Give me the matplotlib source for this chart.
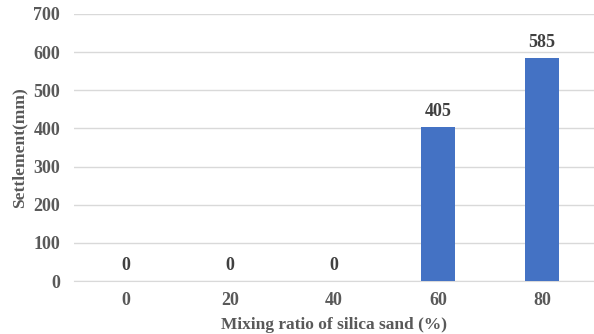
import matplotlib.pyplot as plt

ratios = ["0", "20", "40", "60", "80"]
settlement = [0, 0, 0, 405, 585]
yticks = [0, 100, 200, 300, 400, 500, 600, 700]

plt.rcParams["font.family"] = ["Liberation Serif", "DejaVu Serif"]
plt.rcParams["font.weight"] = "bold"

grey = "#595959"
fig = plt.figure(figsize=(5.94, 3.34), dpi=100)
ax = fig.add_axes([74 / 594, 1 - 281 / 334, 520 / 594, 267 / 334])

x = list(range(len(ratios)))
bars = ax.bar(x, settlement, width=0.32, color="#4472C4", zorder=3)
for rect, v in zip(bars, settlement):
    ax.annotate(str(v), (rect.get_x() + rect.get_width() / 2, v),
                xytext=(0, 5), textcoords="offset points",
                ha="center", va="bottom", fontsize=13, fontweight="bold",
                color="#404040")

ax.set_xlim(-0.5, len(ratios) - 0.5)
ax.set_ylim(0, 700)
ax.set_yticks(yticks)
ax.set_xticks(x)
ax.set_xticklabels(ratios)
ax.yaxis.grid(True, color="#d9d9d9", linewidth=1, zorder=0)
ax.set_axisbelow(True)
for side in ["top", "right", "left"]:
    ax.spines[side].set_visible(False)
ax.spines["bottom"].set_color("#d9d9d9")
ax.tick_params(axis="both", length=0, labelsize=13, colors=grey)
ax.tick_params(axis="y", pad=10)
ax.tick_params(axis="x", pad=8)

ax.set_xlabel("Mixing ratio of silica sand (%)", fontsize=12.5,
              fontweight="bold", color=grey, labelpad=6)
ax.set_ylabel("Settlement(mm)", fontsize=12.5, fontweight="bold",
              color=grey, labelpad=4)

fig.savefig("out.png", dpi=100)
